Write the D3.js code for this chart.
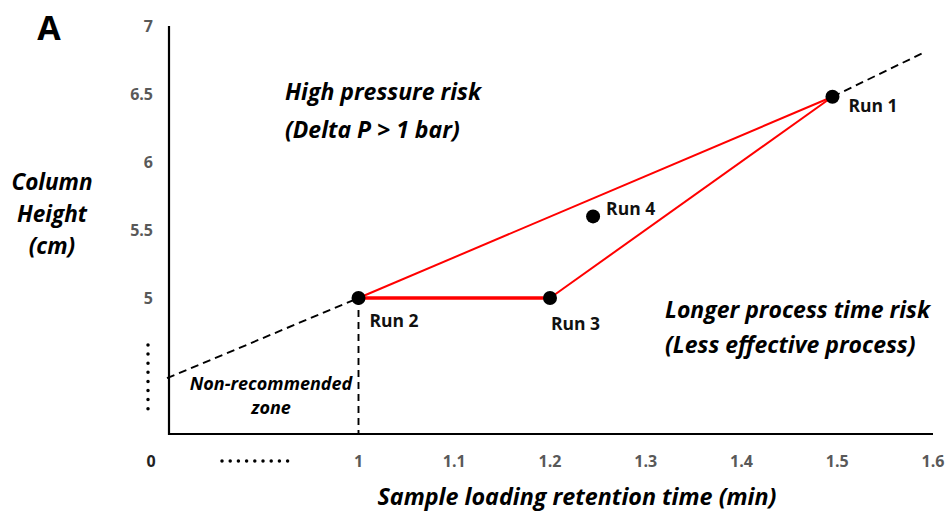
<!DOCTYPE html>
<html>
<head>
<meta charset="utf-8">
<script src="https://d3js.org/d3.v7.min.js"></script>
<style>
  body { margin: 0; background: #fff; }
  text { font-family: "Open Sans", "Noto Sans", sans-serif; }
</style>
</head>
<body>
<div id="chart"></div>
<script>
// runs: retention time (min) vs column height (cm)
const runNames = ["Run 1", "Run 2", "Run 3", "Run 4"];
const retention = [1.495, 1.0, 1.2, 1.245];
const height = [6.48, 5.0, 5.0, 5.6];

// red design-space triangle, by run index
const triangle = [[1, 0], [0, 2], [2, 1]];

// dashed trend line, two visible pieces (left of Run 2, right of Run 1)
const trendX = [[0.8, 1.0], [1.495, 1.589]];
const trendY = [[4.41, 5.0], [6.48, 6.8]];

const xTicks = [1, 1.1, 1.2, 1.3, 1.4, 1.5, 1.6];
const yTicks = [5, 5.5, 6, 6.5, 7];

const W = 946, H = 512;
const svg = d3.select("#chart").append("svg")
    .attr("width", W)
    .attr("height", H);

const x = d3.scaleLinear().domain([0.8, 1.6]).range([167, 933]);
const y = d3.scaleLinear().domain([4, 7]).range([434, 26]);

// axes lines
svg.append("line")
    .attr("x1", 169).attr("x2", 933)
    .attr("y1", y(4)).attr("y2", y(4))
    .attr("stroke", "#000").attr("stroke-width", 2.2);
svg.append("line")
    .attr("x1", 169).attr("x2", 169)
    .attr("y1", y(7)).attr("y2", y(4) + 1)
    .attr("stroke", "#000").attr("stroke-width", 2.2);

// tick labels
svg.selectAll("text.xtick")
    .data(xTicks).enter().append("text")
    .attr("class", "xtick")
    .attr("x", d => x(d))
    .attr("y", 467)
    .attr("text-anchor", "middle")
    .attr("font-size", 16).attr("font-weight", "bold")
    .attr("fill", "#595959")
    .text(d => d3.format(".1~f")(d));

svg.selectAll("text.ytick")
    .data(yTicks).enter().append("text")
    .attr("class", "ytick")
    .attr("x", 153)
    .attr("y", d => y(d) + 6)
    .attr("text-anchor", "end")
    .attr("font-size", 16).attr("font-weight", "bold")
    .attr("fill", "#595959")
    .text(d => d);

// the broken-axis "0" and dots
svg.append("text")
    .attr("x", 151).attr("y", 467)
    .attr("text-anchor", "middle")
    .attr("font-size", 16).attr("font-weight", "bold")
    .attr("fill", "#222")
    .text("0");
svg.append("line")
    .attr("x1", 222).attr("x2", 288)
    .attr("y1", 461).attr("y2", 461)
    .attr("stroke", "#000").attr("stroke-width", 3.5)
    .attr("stroke-linecap", "round")
    .attr("stroke-dasharray", "0 8.2");
svg.append("line")
    .attr("x1", 148).attr("x2", 148)
    .attr("y1", 345).attr("y2", 409)
    .attr("stroke", "#000").attr("stroke-width", 3.5)
    .attr("stroke-linecap", "round")
    .attr("stroke-dasharray", "0 9.1");

// dashed trend line
svg.selectAll("line.trend")
    .data(trendX).enter().append("line")
    .attr("class", "trend")
    .attr("x1", d => x(d[0])).attr("x2", d => x(d[1]))
    .attr("y1", (d, i) => y(trendY[i][0])).attr("y2", (d, i) => y(trendY[i][1]))
    .attr("stroke", "#000").attr("stroke-width", 1.9)
    .attr("stroke-dasharray", "8 5");

// vertical dashed line at 1 min
svg.append("line")
    .attr("x1", x(1)).attr("x2", x(1))
    .attr("y1", y(5)).attr("y2", y(4))
    .attr("stroke", "#000").attr("stroke-width", 1.9)
    .attr("stroke-dasharray", "7 5");

// red triangle
svg.selectAll("line.edge")
    .data(triangle).enter().append("line")
    .attr("class", "edge")
    .attr("x1", d => x(retention[d[0]])).attr("y1", d => y(height[d[0]]))
    .attr("x2", d => x(retention[d[1]])).attr("y2", d => y(height[d[1]]))
    .attr("stroke", "#ff0000")
    .attr("stroke-width", (d, i) => i === 2 ? 3.4 : 2);

// run points
svg.selectAll("circle.run")
    .data(runNames).enter().append("circle")
    .attr("class", "run")
    .attr("cx", (d, i) => x(retention[i]))
    .attr("cy", (d, i) => y(height[i]))
    .attr("r", 7)
    .attr("fill", "#000");

const labelOffset = [[16, 15], [11, 29], [1, 32], [13, -1]];
svg.selectAll("text.run")
    .data(runNames).enter().append("text")
    .attr("class", "run")
    .attr("x", (d, i) => x(retention[i]) + labelOffset[i][0])
    .attr("y", (d, i) => y(height[i]) + labelOffset[i][1])
    .attr("font-size", 17.5).attr("font-weight", "bold")
    .attr("fill", "#111")
    .text(d => d);

// annotation text
function block(lines, xPos, yPos, size, anchor, lh) {
    const t = svg.append("text")
        .attr("x", xPos).attr("y", yPos)
        .attr("text-anchor", anchor)
        .attr("font-size", size)
        .attr("font-weight", "bold")
        .attr("font-style", "italic")
        .attr("fill", "#000");
    lines.forEach((s, i) => {
        t.append("tspan").attr("x", xPos).attr("dy", i ? lh : 0).text(s);
    });
}

block(["High pressure risk", "(Delta P > 1 bar)"], 285, 100, 23, "start", 38);
block(["Longer process time risk", "(Less effective process)"], 665, 318, 23, "start", 35);
block(["Non-recommended", "zone"], 271, 390, 18, "middle", 24);
block(["Column", "Height", "(cm)"], 52, 190, 22.5, "middle", 32);
block(["Sample loading retention time (min)"], 577, 505, 23.3, "middle", 0);

svg.append("text")
    .attr("x", 49).attr("y", 40)
    .attr("text-anchor", "middle")
    .attr("font-size", 34).attr("font-weight", "bold")
    .attr("font-family", "Liberation Sans, Arial, sans-serif")
    .text("A");
</script>
</body>
</html>
